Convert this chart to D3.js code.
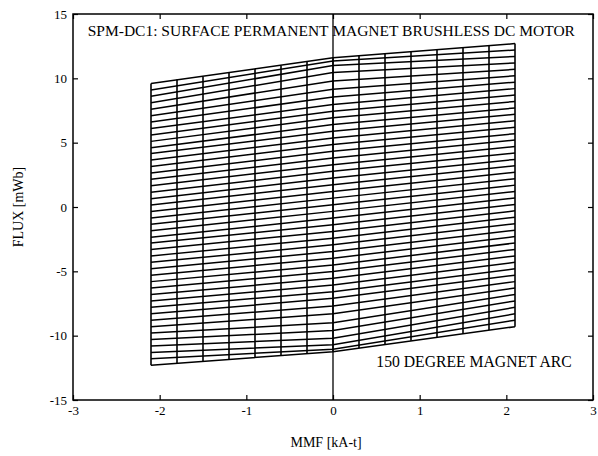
<!DOCTYPE html>
<html>
<head>
<meta charset="utf-8">
<script src="https://cdn.jsdelivr.net/npm/d3@7"></script>
<style>
  body { margin: 0; background: #fff; }
  text { font-family: "Liberation Serif", "Times New Roman", serif; fill: #000; }
</style>
</head>
<body>
<div id="chart"></div>
<script>
  // MMF values of the vertical mesh lines [kA-t]
  var mmf = [-2.1, -1.8, -1.5, -1.2, -0.9, -0.6, -0.3, 0, 0.3, 0.6, 0.9, 1.2, 1.5, 1.8, 2.1];
  // flux of the mesh boundary at each mmf [mWb]
  var meshTop    = [9.6, 9.9, 10.15, 10.45, 10.75, 11.0, 11.3, 11.6, 11.75, 11.9, 12.05, 12.2, 12.4, 12.55, 12.7];
  var meshBottom = [-12.3, -12.15, -12.0, -11.85, -11.7, -11.55, -11.4, -11.25, -10.95, -10.65, -10.4, -10.1, -9.85, -9.55, -9.3];

  // each horizontal curve: flux at mmf = -2.1, 0, 2.1
  var curveMmf = [-2.1, 0, 2.1];
  var fluxLeft = [-12.3, -11.8, -11.3, -10.8, -10.3, -9.8, -9.3, -8.8, -8.3, -7.8,
                  -7.3, -6.8, -6.3, -5.8, -5.3, -4.8, -4.3, -3.8, -3.3, -2.8,
                  -2.35, -1.85, -1.35, -0.85, -0.35, 0.15, 0.65, 1.15, 1.65, 2.15,
                  2.65, 3.15, 3.65, 4.15, 4.6, 5.1, 5.6, 6.1, 6.6, 7.1,
                  7.6, 8.1, 8.6, 9.1, 9.6];
  var fluxMid = [-11.25, -11.05, -10.7, -10.2, -9.6, -9.0, -8.3, -7.7, -7.1, -6.58,
                 -6.06, -5.54, -5.02, -4.5, -3.98, -3.46, -2.94, -2.42, -1.9, -1.38,
                 -0.86, -0.34, 0.17, 0.69, 1.21, 1.73, 2.25, 2.77, 3.29, 3.81,
                 4.33, 4.85, 5.37, 5.89, 6.41, 6.93, 7.44, 7.96, 8.55, 9.15,
                 9.8, 10.45, 11.0, 11.35, 11.6];
  var fluxRight = [-9.3, -8.8, -8.3, -7.8, -7.3, -6.8, -6.3, -5.8, -5.3, -4.8,
                   -4.3, -3.8, -3.3, -2.8, -2.3, -1.8, -1.3, -0.8, -0.3, 0.2,
                   0.7, 1.2, 1.7, 2.2, 2.7, 3.2, 3.7, 4.2, 4.7, 5.2,
                   5.7, 6.2, 6.7, 7.2, 7.7, 8.2, 8.7, 9.2, 9.7, 10.2,
                   10.7, 11.2, 11.7, 12.2, 12.7];

  var xTicks = [-3, -2, -1, 0, 1, 2, 3];
  var yTicks = [-15, -10, -5, 0, 5, 10, 15];

  var width = 598, height = 456;
  var margin = {top: 14, right: 5, bottom: 56, left: 73};

  var svg = d3.select("#chart").append("svg")
      .attr("width", width)
      .attr("height", height);

  var x = d3.scaleLinear().domain([-3, 3]).range([margin.left, width - margin.right]);
  var y = d3.scaleLinear().domain([-15, 15]).range([height - margin.bottom, margin.top]);

  // plain hyphen for negatives, like the original plot
  var fmt = function(d) { return String(d); };

  // mesh: horizontal curves
  var line = d3.line()
      .x(function(d) { return x(d[0]); })
      .y(function(d) { return y(d[1]); });

  var curves = fluxLeft.map(function(v, i) {
    return [[curveMmf[0], v], [curveMmf[1], fluxMid[i]], [curveMmf[2], fluxRight[i]]];
  });

  svg.append("g")
    .selectAll("path")
    .data(curves)
    .enter().append("path")
      .attr("d", line)
      .attr("fill", "none")
      .attr("stroke", "#000")
      .attr("stroke-width", 1.5);

  // mesh: vertical lines
  svg.append("g")
    .selectAll("line")
    .data(mmf)
    .enter().append("line")
      .attr("x1", function(d) { return x(d); })
      .attr("x2", function(d) { return x(d); })
      .attr("y1", function(d, i) { return y(meshTop[i]); })
      .attr("y2", function(d, i) { return y(meshBottom[i]); })
      .attr("stroke", "#000")
      .attr("stroke-width", 1.6);

  // zero line
  svg.append("line")
    .attr("x1", x(0)).attr("x2", x(0))
    .attr("y1", y(15)).attr("y2", y(-15))
    .attr("stroke", "#000")
    .attr("stroke-width", 1.3);

  // axes, ticks inward
  svg.append("g")
      .attr("transform", "translate(0," + y(-15) + ")")
      .call(d3.axisBottom(x).tickValues(xTicks).tickFormat(fmt).tickSize(-5).tickPadding(6));
  svg.append("g")
      .attr("transform", "translate(0," + y(15) + ")")
      .call(d3.axisTop(x).tickValues(xTicks).tickFormat("").tickSize(-5));
  svg.append("g")
      .attr("transform", "translate(" + x(-3) + ",0)")
      .call(d3.axisLeft(y).tickValues(yTicks).tickFormat(fmt).tickSize(-5).tickPadding(6));
  svg.append("g")
      .attr("transform", "translate(" + x(3) + ",0)")
      .call(d3.axisRight(y).tickValues(yTicks).tickFormat("").tickSize(-5));

  svg.selectAll(".domain").remove();
  svg.selectAll(".tick line").attr("stroke", "#000").attr("stroke-width", 1.2);
  svg.selectAll(".tick text")
      .style("font-family", "'Liberation Serif', 'Times New Roman', serif")
      .style("font-size", "13px");

  // frame
  svg.append("rect")
    .attr("x", x(-3)).attr("y", y(15))
    .attr("width", x(3) - x(-3)).attr("height", y(-15) - y(15))
    .attr("fill", "none")
    .attr("stroke", "#000")
    .attr("stroke-width", 1.5);

  // texts
  svg.append("text")
    .attr("x", x(-2.83)).attr("y", y(13.3))
    .style("font-size", "15.5px")
    .text("SPM-DC1: SURFACE PERMANENT MAGNET BRUSHLESS DC MOTOR");

  svg.append("text")
    .attr("x", x(0.5)).attr("y", y(-12.45))
    .style("font-size", "15.7px")
    .text("150 DEGREE MAGNET ARC");

  svg.append("text")
    .attr("transform", "translate(23," + y(0) + ") rotate(-90)")
    .attr("text-anchor", "middle")
    .style("font-size", "14px")
    .text("FLUX [mWb]");

  svg.append("text")
    .attr("x", x(-0.08)).attr("y", 447)
    .attr("text-anchor", "middle")
    .style("font-size", "14px")
    .text("MMF [kA-t]");
</script>
</body>
</html>
